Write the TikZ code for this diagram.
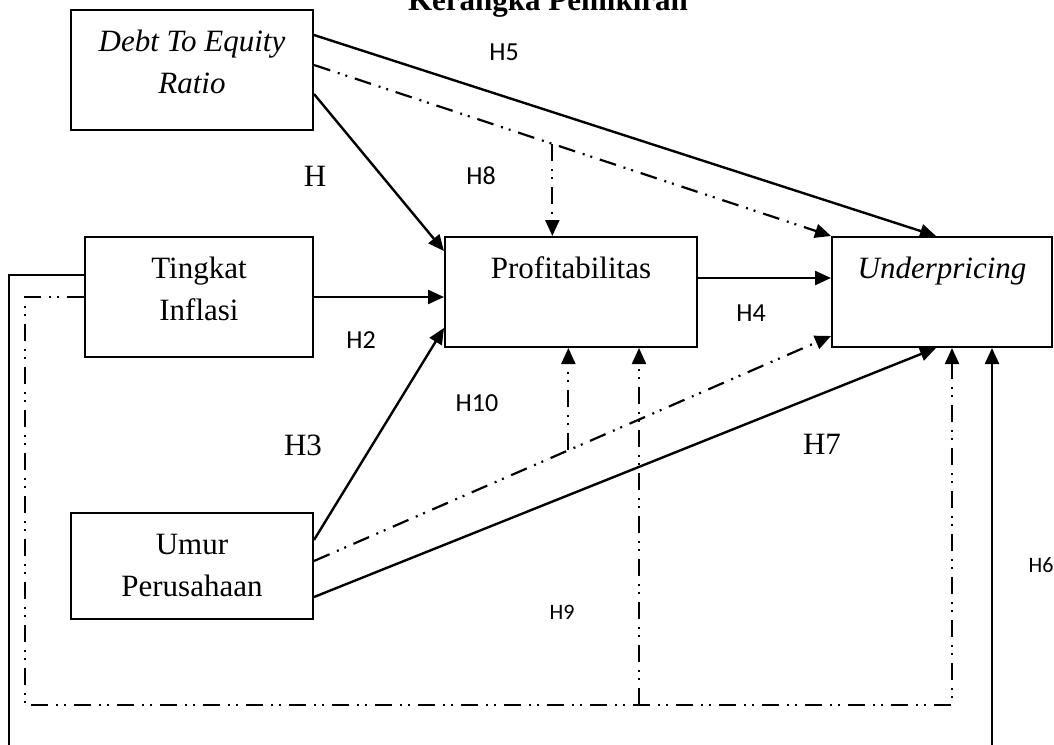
\documentclass[tikz,border=0pt]{standalone}
\usepackage{fontspec}
\setmainfont{Liberation Serif}
\newfontfamily\calibri{Carlito}
\usetikzlibrary{arrows.meta,positioning}
\newcommand{\topstrut}{\rule{0pt}{41pt}}

\begin{document}
\begin{tikzpicture}[x=1pt,y=-1pt,line width=2pt,>={Triangle[length=16pt,width=14pt]},
    box/.style={draw,rectangle,inner sep=0pt},
    box text/.style={align=center,inner sep=0pt,font=\fontsize{31}{42}\selectfont},
    hyp/.style={inner sep=0pt,font=\calibri\fontsize{26}{30}\selectfont},
    hyp small/.style={inner sep=0pt,font=\calibri\fontsize{22}{26}\selectfont},
    hyp serif/.style={inner sep=0pt,font=\fontsize{31}{36}\selectfont},
    link/.style={->,line width=2.4pt},
    mod link/.style={->,line width=2.2pt,dash pattern=on 17pt off 8pt on 2pt off 6pt on 2pt off 8pt}]
    \fill[white] (0,0) rectangle (1054,744);
    \useasboundingbox (0,0) rectangle (1054,744);
    \clip (0,0) rectangle (1054,744);

    \node[font=\bfseries\fontsize{31}{36}\selectfont,anchor=base] (title) at (548,10) {Kerangka Pemikiran};

    % variables
    \node[box,minimum width=242pt,minimum height=120pt] (der) at (192,70) {};
    \node[box,minimum width=228pt,minimum height=120pt] (infl) at (199,297) {};
    \node[box,minimum width=252pt,minimum height=110pt] (prof) at (571,292) {};
    \node[box,minimum width=220pt,minimum height=110pt] (under) at (942,292) {};
    \node[box,minimum width=242pt,minimum height=106pt] (umur) at (192,566) {};

    \node[box text,below=0pt of der.north] (der txt) {\topstrut\textit{Debt To Equity}\\\textit{Ratio}};
    \node[box text,below=0pt of infl.north] (infl txt) {\topstrut Tingkat\\Inflasi};
    \node[box text,below=0pt of prof.north] (prof txt) {\topstrut Profitabilitas};
    \node[box text,below=0pt of under.north] (under txt) {\topstrut\textit{Underpricing}};
    \node[box text,below=0pt of umur.north] (umur txt) {\topstrut Umur\\Perusahaan};

    \coordinate (outer sw) at (9,760);
    \coordinate (mod sw) at (25,705);
    \coordinate (prof br) at ([xshift=68pt]prof.south);

    % direct effects
    \draw[link] ([yshift=-24pt]der.east) -- ([yshift=-15pt]prof.north west);
    \draw[link] ([yshift=35pt]der.east) -- ([xshift=-6pt]under.north);
    \draw[link] (infl.east) -- (infl.east -| prof.west);
    \draw[link] ([yshift=26pt]umur.east) -- ([yshift=20pt]prof.south west);
    \draw[link] ([yshift=-31pt]umur.east) -- ([xshift=-6pt]under.south);
    \draw[link] (prof.east |- under txt.base) -- (under.west |- under txt.base);
    \draw[link] ([yshift=22pt]infl.west) -| (outer sw) -| ([xshift=50pt]under.south);

    % moderated effects
    \draw[mod link] ([yshift=5pt]der.east) -- coordinate[pos=0.461] (m8) (under.north west);
    \draw[mod link] (m8) -- (m8 |- prof.north);
    \draw[mod link] ([yshift=5pt]umur.east) -- coordinate[pos=0.492] (m10) ([yshift=12pt]under.south west);
    \draw[mod link] (m10) -- (m10 |- prof.south);
    \draw[mod link] (infl.west) -| (mod sw) -| ([xshift=10pt]under.south);
    \draw[mod link] (prof br |- mod sw) -- (prof br);

    % hypotheses
    \node[hyp] (h5) at (504,52) {H5};
    \node[hyp serif] (h1) at (315,176) {H};
    \node[hyp] (h8) at (481,176) {H8};
    \node[hyp] (h2) at (361,340) {H2};
    \node[hyp] (h4) at (751,313) {H4};
    \node[hyp] (h10) at (477,403) {H10};
    \node[hyp serif] (h3) at (303,445) {H3};
    \node[hyp serif] (h7) at (822,444) {H7};
    \node[hyp small] (h9) at (562,612) {H9};
    \node[hyp small] (h6) at (1041,565) {H6};
\end{tikzpicture}
\end{document}
